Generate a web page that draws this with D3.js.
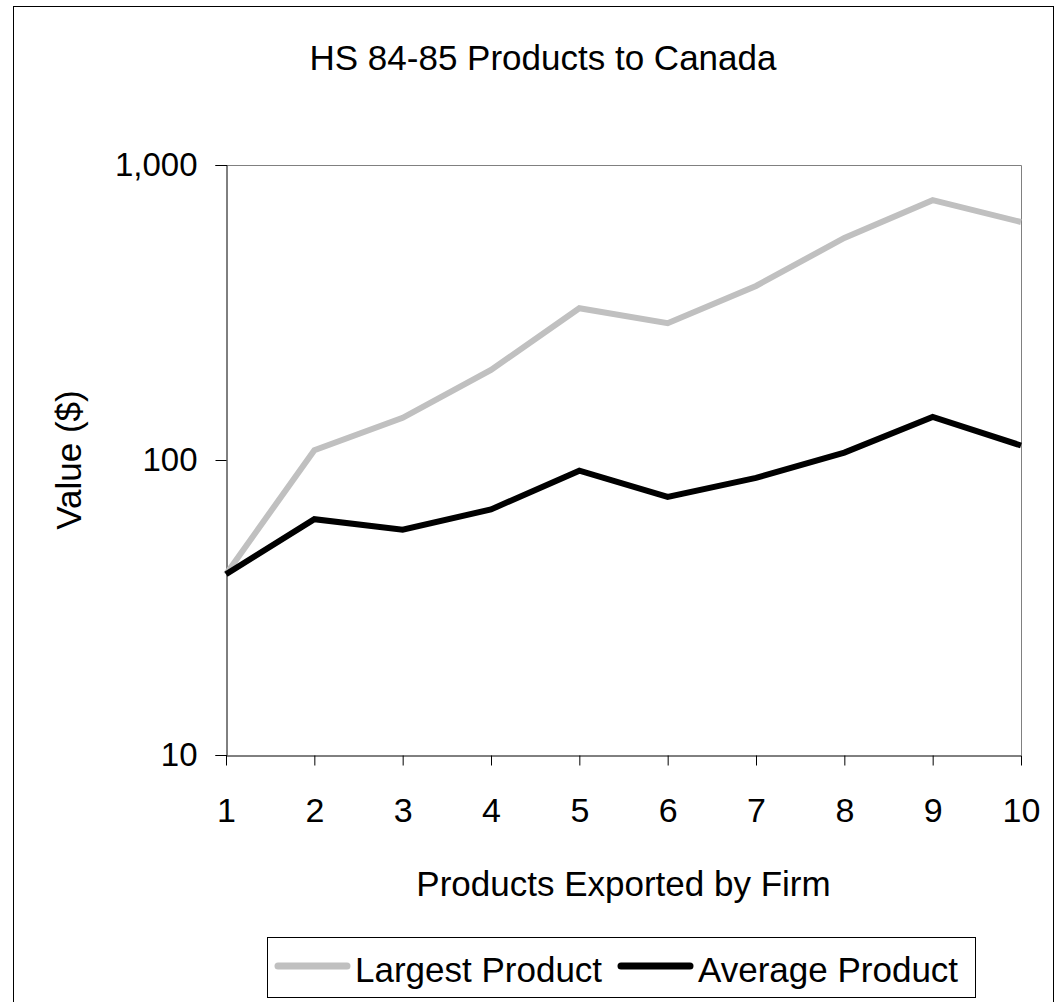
<!DOCTYPE html>
<html>
<head>
<meta charset="utf-8">
<script src="https://cdn.jsdelivr.net/npm/d3@7"></script>
<style>
  html, body { margin: 0; padding: 0; background: #fff; }
  svg { display: block; font-family: "Liberation Sans", Arial, sans-serif; }
</style>
</head>
<body>
<svg id="chart" width="1056" height="1002"></svg>
<script>
// Products exported by a firm (count) and export values in dollars
const productCounts = [1, 2, 3, 4, 5, 6, 7, 8, 9, 10];
const largestProduct = [41, 108, 139, 202, 327, 291, 389, 566, 760, 641];
const averageProduct = [41, 63, 58, 68, 92, 75, 87, 106, 140, 112];
const yTickValues = [10, 100, 1000];

const seriesNames = ["Largest Product", "Average Product"];
const seriesColors = ["#c0c0c0", "#000000"];

const svg = d3.select("#chart");
const W = 1056, H = 1002;
const plot = { left: 226, right: 1021, top: 165, bottom: 755 };

// outer frame
svg.append("rect")
  .attr("x", 13.5).attr("y", 6.5)
  .attr("width", W - 16).attr("height", H - 6)
  .attr("fill", "#fff").attr("stroke", "#000").attr("stroke-width", 1);

const x = d3.scaleLinear().domain([1, 10]).range([plot.left, plot.right]);
const y = d3.scaleLog().domain([10, 1000]).range([plot.bottom, plot.top]);

// plot area border (top and right)
svg.append("path")
  .attr("d", `M${plot.left},${plot.top + 0.5}H${plot.right + 0.5}V${plot.bottom}`)
  .attr("fill", "none").attr("stroke", "#808080").attr("stroke-width", 1);

// title
svg.append("text")
  .attr("x", 543).attr("y", 70)
  .attr("text-anchor", "middle")
  .attr("font-size", 35)
  .text("HS 84-85 Products to Canada");

// y axis
const yAxis = d3.axisLeft(y)
  .tickValues(yTickValues)
  .tickFormat(d3.format(","))
  .tickSize(11)
  .tickPadding(18);
const gy = svg.append("g")
  .attr("transform", `translate(${plot.left + 0.5},0)`)
  .call(yAxis);
gy.select(".domain").attr("stroke", "#000");
gy.selectAll(".tick line").attr("stroke", "#000");
gy.selectAll(".tick text")
  .attr("font-size", 33)
  .attr("font-family", "Liberation Sans, Arial, sans-serif")
  .attr("fill", "#000");

// x axis
const xAxis = d3.axisBottom(x)
  .tickValues(productCounts)
  .tickFormat(d3.format("d"))
  .tickSize(10)
  .tickSizeOuter(0)
  .tickPadding(32);
const gx = svg.append("g")
  .attr("transform", `translate(0,${plot.bottom + 0.5})`)
  .call(xAxis);
gx.select(".domain").attr("stroke", "#000");
gx.selectAll(".tick line").attr("stroke", "#000");
gx.selectAll(".tick text")
  .attr("font-size", 34)
  .attr("font-family", "Liberation Sans, Arial, sans-serif")
  .attr("fill", "#000");

// axis titles
svg.append("text")
  .attr("x", (plot.left + plot.right) / 2).attr("y", 896)
  .attr("text-anchor", "middle")
  .attr("font-size", 35)
  .text("Products Exported by Firm");

svg.append("text")
  .attr("transform", `translate(81,${(plot.top + plot.bottom) / 2}) rotate(-90)`)
  .attr("text-anchor", "middle")
  .attr("font-size", 35)
  .text("Value ($)");

// series lines
const line = d3.line()
  .x((d, i) => x(productCounts[i]))
  .y(d => y(d));

[largestProduct, averageProduct].forEach((vals, k) => {
  svg.append("path")
    .datum(vals)
    .attr("d", line)
    .attr("fill", "none")
    .attr("stroke", seriesColors[k])
    .attr("stroke-width", 6)
    .attr("stroke-linejoin", "miter");
});

// legend
const legend = svg.append("g");
legend.append("rect")
  .attr("x", 267.5).attr("y", 937.5)
  .attr("width", 708).attr("height", 60)
  .attr("fill", "#fff").attr("stroke", "#000").attr("stroke-width", 1);

const legendItems = [
  { x1: 278, x2: 347, tx: 355 },
  { x1: 621, x2: 690, tx: 698 }
];
legendItems.forEach((it, k) => {
  legend.append("line")
    .attr("x1", it.x1).attr("x2", it.x2)
    .attr("y1", 966).attr("y2", 966)
    .attr("stroke", seriesColors[k])
    .attr("stroke-width", 7)
    .attr("stroke-linecap", "round");
  legend.append("text")
    .attr("x", it.tx).attr("y", 982)
    .attr("font-size", 35)
    .text(seriesNames[k]);
});
</script>
</body>
</html>
